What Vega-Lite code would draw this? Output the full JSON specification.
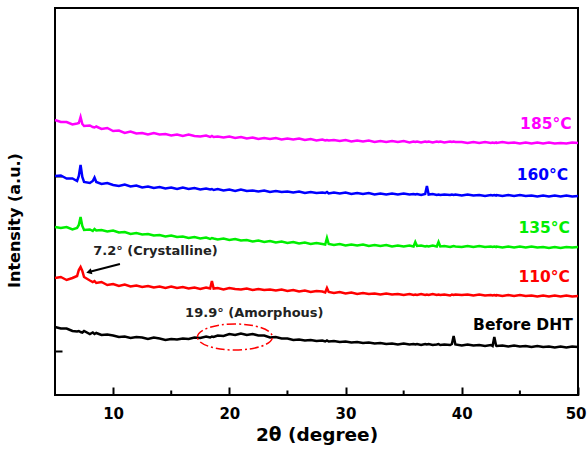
{
  "$schema": "https://vega.github.io/schema/vega-lite/v6.json",
  "width": 523,
  "height": 387,
  "autosize": "none",
  "padding": {"left": 55, "top": 8, "right": 9, "bottom": 56},
  "background": "white",
  "config": {"view": {"stroke": "black", "strokeWidth": 2}, "font": "DejaVu Sans"},
  "datasets": {
    "xrd": [
      {"x":5,"m":275,"b":219,"g":168,"r":117,"k":68},
      {"x":5.5,"m":273,"b":219.5,"g":167,"r":118,"k":66.5},
      {"x":6,"m":273,"b":216.5,"g":168,"r":115,"k":66.5},
      {"x":6.5,"m":270.5,"b":216.5,"g":165.5,"r":117,"k":64},
      {"x":6.9,"m":271.5,"b":214,"g":167,"r":119,"k":63.5},
      {"x":7.05,"m":272,"b":219,"g":170,"r":125,"k":64},
      {"x":7.2,"m":278,"b":230,"g":178,"r":128,"k":63},
      {"x":7.35,"m":271,"b":218,"g":169,"r":124,"k":62.5},
      {"x":7.5,"m":269,"b":213,"g":165,"r":118,"k":64},
      {"x":8,"m":269.5,"b":212,"g":165.5,"r":114.5,"k":61},
      {"x":8.25,"m":268,"b":214,"g":164,"r":113,"k":62.5},
      {"x":8.4,"m":267.5,"b":217.5,"g":166,"r":114,"k":61},
      {"x":8.55,"m":268.5,"b":213,"g":164.5,"r":112,"k":62},
      {"x":9,"m":266,"b":211,"g":165,"r":113,"k":60},
      {"x":9.5,"m":267,"b":212,"g":163.5,"r":110,"k":60.5},
      {"x":10,"m":264,"b":210,"g":164.5,"r":111,"k":59.5},
      {"x":10.5,"m":264.5,"b":209,"g":162.5,"r":109,"k":58},
      {"x":11,"m":262,"b":210.5,"g":163,"r":110.5,"k":58.5},
      {"x":11.5,"m":263.5,"b":208.5,"g":161,"r":108.5,"k":57},
      {"x":12,"m":261.5,"b":209.5,"g":162,"r":109.5,"k":58},
      {"x":12.5,"m":262,"b":207.5,"g":160.5,"r":108,"k":57.5},
      {"x":13,"m":260.5,"b":208.5,"g":161,"r":109,"k":56},
      {"x":13.5,"m":262,"b":207,"g":159.5,"r":107.5,"k":57.5},
      {"x":14,"m":260.5,"b":208,"g":160,"r":108.5,"k":56.5},
      {"x":14.5,"m":261,"b":206.5,"g":158.5,"r":107,"k":55},
      {"x":15,"m":259.5,"b":207.5,"g":159.5,"r":108.5,"k":56},
      {"x":15.5,"m":260.5,"b":206,"g":158,"r":107,"k":55.5},
      {"x":16,"m":259,"b":207.5,"g":158.5,"r":108,"k":56.5},
      {"x":16.5,"m":260.5,"b":206,"g":157,"r":106.5,"k":56},
      {"x":17,"m":259,"b":207,"g":158,"r":107.5,"k":57.5},
      {"x":17.5,"m":258.5,"b":205.5,"g":156.5,"r":106,"k":57},
      {"x":18,"m":259.5,"b":206.5,"g":157.5,"r":107.5,"k":58.5},
      {"x":18.35,"m":258,"b":205.5,"g":156,"r":106.5,"k":57.5},
      {"x":18.5,"m":259,"b":206,"g":157,"r":114,"k":58.5},
      {"x":18.65,"m":258,"b":205,"g":156.5,"r":106.5,"k":58},
      {"x":19,"m":258.5,"b":206,"g":155.5,"r":107,"k":59.5},
      {"x":19.5,"m":257.5,"b":204.5,"g":156.5,"r":105.5,"k":59},
      {"x":20,"m":258.5,"b":205.5,"g":155,"r":107,"k":61},
      {"x":20.5,"m":257,"b":204,"g":156,"r":106,"k":60},
      {"x":21,"m":258,"b":205.5,"g":154.5,"r":105.5,"k":61.5},
      {"x":21.5,"m":256.5,"b":204,"g":155,"r":106.5,"k":60},
      {"x":22,"m":257.5,"b":204.5,"g":153.5,"r":105,"k":61},
      {"x":22.5,"m":256,"b":203.5,"g":154.5,"r":106,"k":59.5},
      {"x":23,"m":257,"b":204.5,"g":153,"r":105,"k":59.5},
      {"x":23.5,"m":256,"b":203,"g":154,"r":105.5,"k":57.5},
      {"x":24,"m":257,"b":204,"g":152.5,"r":104.5,"k":58},
      {"x":24.5,"m":255.5,"b":203,"g":153.5,"r":105.5,"k":56.5},
      {"x":25,"m":256.5,"b":203.5,"g":152,"r":104,"k":56.5},
      {"x":25.5,"m":255.5,"b":202.5,"g":153,"r":105,"k":55},
      {"x":26,"m":256.5,"b":203.5,"g":151.5,"r":103.5,"k":55.5},
      {"x":26.5,"m":255,"b":202,"g":152.5,"r":104.5,"k":54.5},
      {"x":27,"m":256,"b":203,"g":151,"r":103,"k":55},
      {"x":27.5,"m":254.5,"b":202,"g":152,"r":104,"k":54},
      {"x":28,"m":255.5,"b":202.5,"g":151,"r":103.5,"k":54.5},
      {"x":28.25,"m":254.5,"b":202,"g":150.5,"r":102.5,"k":53.5},
      {"x":28.4,"m":255,"b":203,"g":157,"r":107,"k":54.5},
      {"x":28.55,"m":254.5,"b":201.5,"g":151,"r":103,"k":53.5},
      {"x":29,"m":255,"b":202.5,"g":150,"r":102,"k":54},
      {"x":29.5,"m":254,"b":201.5,"g":151,"r":103,"k":53},
      {"x":30,"m":255,"b":202.5,"g":149.5,"r":101.5,"k":53.5},
      {"x":30.5,"m":253.5,"b":201,"g":150.5,"r":102.5,"k":52.5},
      {"x":31,"m":254.5,"b":202,"g":149.5,"r":101,"k":53},
      {"x":31.5,"m":253.5,"b":201,"g":150.5,"r":102,"k":52},
      {"x":32,"m":254.5,"b":202,"g":149,"r":101,"k":52.5},
      {"x":32.5,"m":253,"b":200.5,"g":150,"r":101.5,"k":51.5},
      {"x":33,"m":254,"b":201.5,"g":149,"r":100.5,"k":52},
      {"x":33.5,"m":253,"b":200.5,"g":150,"r":101.5,"k":51},
      {"x":34,"m":254,"b":201.5,"g":148.5,"r":100.5,"k":51.5},
      {"x":34.5,"m":253,"b":200.5,"g":149.5,"r":101,"k":50.5},
      {"x":35,"m":254,"b":201.5,"g":148.5,"r":100,"k":51.5},
      {"x":35.5,"m":252.5,"b":200.5,"g":149.5,"r":101,"k":50.5},
      {"x":35.85,"m":253.5,"b":201,"g":148.5,"r":100,"k":51},
      {"x":36,"m":253,"b":200.5,"g":153,"r":100.5,"k":50.5},
      {"x":36.15,"m":253.5,"b":201,"g":149,"r":100,"k":51},
      {"x":36.5,"m":252.5,"b":200,"g":149.5,"r":101,"k":50},
      {"x":36.85,"m":253.5,"b":201,"g":148.5,"r":100,"k":51},
      {"x":37,"m":253,"b":209,"g":149,"r":100.5,"k":50.5},
      {"x":37.15,"m":253.5,"b":200.5,"g":148.5,"r":100,"k":51},
      {"x":37.5,"m":252.5,"b":201,"g":149.5,"r":101,"k":50},
      {"x":37.85,"m":253.5,"b":200,"g":148.5,"r":100,"k":50.5},
      {"x":38,"m":253,"b":200.5,"g":153,"r":100.5,"k":51},
      {"x":38.15,"m":253.5,"b":200,"g":148.5,"r":100,"k":50},
      {"x":38.5,"m":252.5,"b":200.5,"g":149,"r":100.5,"k":50.5},
      {"x":39,"m":253.5,"b":200,"g":148,"r":99.5,"k":50},
      {"x":39.15,"m":253,"b":200.5,"g":148.5,"r":100.5,"k":51},
      {"x":39.3,"m":253.5,"b":200,"g":149,"r":100,"k":59},
      {"x":39.45,"m":253,"b":200.5,"g":148.5,"r":100.5,"k":50.5},
      {"x":40,"m":253,"b":199.5,"g":148,"r":100,"k":49.5},
      {"x":40.5,"m":252,"b":200.5,"g":149,"r":100.5,"k":50.5},
      {"x":41,"m":253,"b":199.5,"g":148,"r":99.5,"k":49.5},
      {"x":41.5,"m":252,"b":200,"g":149,"r":100.5,"k":50},
      {"x":42,"m":253,"b":199,"g":148,"r":99.5,"k":49},
      {"x":42.5,"m":252,"b":200,"g":148.5,"r":100,"k":50},
      {"x":42.65,"m":252.5,"b":199.5,"g":148,"r":99.5,"k":49},
      {"x":42.8,"m":252,"b":200,"g":148.5,"r":100,"k":58},
      {"x":42.95,"m":252.5,"b":199.5,"g":148,"r":99.5,"k":49.5},
      {"x":43,"m":252,"b":200,"g":148.5,"r":100,"k":49},
      {"x":43.5,"m":253,"b":199,"g":147.5,"r":99,"k":49.5},
      {"x":44,"m":252,"b":200,"g":148.5,"r":100,"k":48.5},
      {"x":44.5,"m":252.5,"b":199,"g":147.5,"r":99,"k":49.5},
      {"x":45,"m":251.5,"b":200,"g":148.5,"r":100,"k":48.5},
      {"x":45.5,"m":252.5,"b":199,"g":147.5,"r":99,"k":49},
      {"x":46,"m":251.5,"b":199.5,"g":148.5,"r":99.5,"k":48},
      {"x":46.5,"m":252.5,"b":198.5,"g":147.5,"r":98.5,"k":49},
      {"x":47,"m":251.5,"b":199.5,"g":148,"r":99.5,"k":48},
      {"x":47.5,"m":252.5,"b":198.5,"g":147,"r":98.5,"k":48.5},
      {"x":48,"m":251.5,"b":199.5,"g":148,"r":99.5,"k":47.5},
      {"x":48.5,"m":252,"b":198.5,"g":147,"r":98.5,"k":48.5},
      {"x":49,"m":251.5,"b":199.5,"g":148,"r":99.5,"k":47.5},
      {"x":49.5,"m":252.5,"b":198.5,"g":147.5,"r":98.5,"k":48.5},
      {"x":50,"m":252,"b":199,"g":148,"r":99,"k":48}
    ],
    "labels": [
      {"s":"m","t":"185°C","x":49.45,"y":271},
      {"s":"b","t":"160°C","x":49.15,"y":220},
      {"s":"g","t":"135°C","x":49.3,"y":167},
      {"s":"r","t":"110°C","x":49.3,"y":118},
      {"s":"k","t":"Before DHT","x":49.55,"y":70}
    ],
    "notes": [
      {"t":"7.2° (Crystalline)","x":13.64,"y":144},
      {"t":"19.9° (Amorphous)","x":22.15,"y":82}
    ],
    "minor": [{"x":15},{"x":25},{"x":35},{"x":45}],
    "arrow": [{"x":7.92,"y":123,"x2":10.59,"y2":131}],
    "halo": [{"x":20.48,"y":58}]
  },
  "layer": [
    {
      "data": {"name": "xrd"},
      "transform": [{"fold": ["m","b","g","r","k"], "as": ["s","v"]}],
      "mark": {"type": "line", "strokeWidth": 2.5},
      "encoding": {
        "x": {"field": "x", "type": "quantitative", "title": "2θ (degree)",
          "scale": {"domain": [5,50], "nice": false, "zero": false},
          "axis": {"values": [10,20,30,40,50], "grid": false, "domain": false, "tickSize": -8, "tickWidth": 2, "tickColor": "black",
            "labelFont": "DejaVu Sans", "labelFontWeight": "bold", "labelFontSize": 15, "labelColor": "black", "labelPadding": 19, "labelFlush": true, "labelFlushOffset": 8,
            "titleFont": "DejaVu Sans", "titleFontSize": 18.5, "titleFontWeight": "bold", "titleColor": "black", "titlePadding": 4}},
        "y": {"field": "v", "type": "quantitative", "title": "Intensity (a.u.)",
          "scale": {"domain": [0,387], "nice": false, "zero": false},
          "axis": {"values": [44,219], "labels": false, "grid": false, "domain": false, "tickSize": -7, "tickWidth": 2, "tickColor": "black",
            "titleFont": "DejaVu Sans", "titleFontSize": 16, "titleFontWeight": "bold", "titleColor": "black",
            "titleX": -41, "titleY": 212, "titleAngle": -90, "titleAlign": "center", "titleBaseline": "middle"}},
        "color": {"field": "s", "type": "nominal", "legend": null,
          "scale": {"domain": ["m","b","g","r","k"], "range": ["#ff00ff","#0000ff","#00ee00","#ff0000","#000000"]}}
      }
    },
    {
      "data": {"name": "labels"},
      "mark": {"type": "text", "align": "right", "baseline": "middle", "font": "DejaVu Sans", "fontWeight": "bold", "fontSize": 15.5},
      "encoding": {
        "x": {"field": "x", "type": "quantitative", "title": "2θ (degree)"},
        "y": {"field": "y", "type": "quantitative", "title": "Intensity (a.u.)"},
        "text": {"field": "t"},
        "color": {"field": "s", "type": "nominal", "legend": null}
      }
    },
    {
      "data": {"name": "notes"},
      "mark": {"type": "text", "align": "center", "baseline": "middle", "font": "DejaVu Sans", "fontWeight": "bold", "fontSize": 13, "color": "#222222"},
      "encoding": {
        "x": {"field": "x", "type": "quantitative", "title": "2θ (degree)"},
        "y": {"field": "y", "type": "quantitative", "title": "Intensity (a.u.)"},
        "text": {"field": "t"}
      }
    },
    {
      "data": {"name": "minor"},
      "mark": {"type": "rule", "color": "black", "strokeWidth": 2},
      "encoding": {
        "x": {"field": "x", "type": "quantitative", "title": "2θ (degree)"},
        "y": {"datum": 0, "type": "quantitative", "title": "Intensity (a.u.)"},
        "y2": {"datum": 4.5}
      }
    },
    {
      "data": {"name": "arrow"},
      "mark": {"type": "rule", "color": "black", "strokeWidth": 2},
      "encoding": {
        "x": {"field": "x", "type": "quantitative", "title": "2θ (degree)"},
        "y": {"field": "y", "type": "quantitative", "title": "Intensity (a.u.)"},
        "x2": {"field": "x2"},
        "y2": {"field": "y2"}
      }
    },
    {
      "data": {"name": "arrow"},
      "mark": {"type": "point", "shape": "triangle-left", "filled": true, "color": "black", "size": 40, "angle": 345, "opacity": 1},
      "encoding": {
        "x": {"field": "x", "type": "quantitative", "title": "2θ (degree)"},
        "y": {"field": "y", "type": "quantitative", "title": "Intensity (a.u.)"}
      }
    },
    {
      "data": {"name": "halo"},
      "mark": {"type": "point", "shape": "M -1 0 A 1 0.347 0 1 1 1 0 A 1 0.347 0 1 1 -1 0 Z", "filled": false, "stroke": "#ff0000", "strokeWidth": 1.5, "strokeDash": [9,3,2,3], "size": 5625, "opacity": 1},
      "encoding": {
        "x": {"field": "x", "type": "quantitative", "title": "2θ (degree)"},
        "y": {"field": "y", "type": "quantitative", "title": "Intensity (a.u.)"}
      }
    }
  ]
}
